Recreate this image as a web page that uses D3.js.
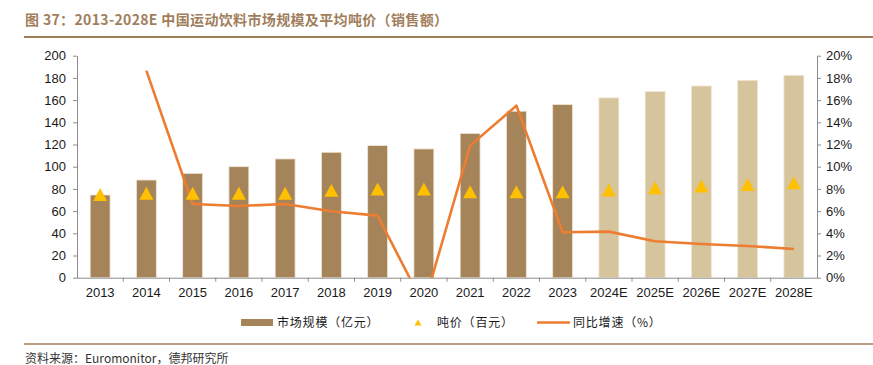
<!DOCTYPE html>
<html>
<head>
<meta charset="utf-8">
<script src="https://cdn.jsdelivr.net/npm/d3@7"></script>
<style>
  body { margin: 0; background: #fff; }
  svg text { font-family: "Liberation Sans", Arial, "Noto Sans CJK SC", sans-serif; }
  .cjk { font-family: "Noto Sans CJK SC", sans-serif; }
  .axis path, .axis line { stroke: #8c8c8c; }
  .axis text { font-size: 13px; fill: #1a1a1a; }
</style>
</head>
<body>
<svg width="873" height="365"></svg>
<script>
// categories
var years = ["2013","2014","2015","2016","2017","2018","2019","2020","2021","2022","2023","2024E","2025E","2026E","2027E","2028E"];
// market size, 100 million yuan
var marketSize = [74.5, 88, 94, 100, 107, 113, 119, 116, 130, 150, 156, 162, 167.6, 172.7, 177.8, 182.3];
// average price per ton, hundred yuan
var tonPrice = [75, 76, 76, 76, 76, 78.7, 80, 80, 77.5, 77.5, 77.5, 79, 81, 82.6, 84, 85.6];
// growth rate %, no value for 2013
var growth = [null, 18.65, 6.64, 6.46, 6.64, 5.98, 5.59, -2.5, 11.9, 15.5, 4.09, 4.15, 3.28, 3.04, 2.86, 2.59];
var leftTicks = [0, 20, 40, 60, 80, 100, 120, 140, 160, 180, 200];
var rightTicks = [0, 2, 4, 6, 8, 10, 12, 14, 16, 18, 20];

var svg = d3.select("svg");
var plot = { left: 77, right: 817, top: 55.7, bottom: 277.7 };

var brown = "#a6845a", beige = "#d5c49c", gold = "#ffc000", orange = "#ed7d31", titleColor = "#a07e5c";

// title
svg.append("text").attr("x", 25).attr("y", 25)
  .attr("class", "cjk")
  .attr("font-size", 14).attr("font-weight", "bold").attr("fill", titleColor)
  .attr("letter-spacing", 0.35)
  .text("图 37：2013-2028E 中国运动饮料市场规模及平均吨价（销售额）");
svg.append("line").attr("x1", 24).attr("x2", 873).attr("y1", 37).attr("y2", 37)
  .attr("stroke", titleColor).attr("stroke-width", 2);

var x = d3.scaleBand().domain(years).range([plot.left, plot.right]);
var yL = d3.scaleLinear().domain([0, 200]).range([plot.bottom, plot.top]);
var yR = d3.scaleLinear().domain([0, 20]).range([plot.bottom, plot.top]);
var barW = x.bandwidth() * 0.43;

// bars
svg.append("g").selectAll("rect")
  .data(years)
  .enter().append("rect")
  .attr("x", function(d){ return x(d) + (x.bandwidth() - barW) / 2; })
  .attr("width", barW)
  .attr("y", function(d, i){ return yL(marketSize[i]); })
  .attr("height", function(d, i){ return yL(0) - yL(marketSize[i]); })
  .attr("fill", function(d){ return d.indexOf("E") > 0 ? beige : brown; })
  .attr("stroke", "#efe6d6").attr("stroke-width", 0.8);

// axes
var xAxis = svg.append("g").attr("class", "axis")
  .attr("transform", "translate(0," + plot.bottom + ")")
  .call(d3.axisBottom(x).tickSize(0).tickPadding(10));
// boundary ticks
xAxis.selectAll(".bt")
  .data(years.slice(1))
  .enter().append("line")
  .attr("class", "bt")
  .attr("x1", function(d){ return x(d); }).attr("x2", function(d){ return x(d); })
  .attr("y1", 0).attr("y2", 4);
xAxis.select(".domain").attr("d", "M" + plot.left + ",0.5H" + plot.right);

svg.append("g").attr("class", "axis")
  .attr("transform", "translate(" + plot.left + ",0)")
  .call(d3.axisLeft(yL).tickValues(leftTicks).tickSize(4).tickPadding(7).tickSizeOuter(0));

svg.append("g").attr("class", "axis")
  .attr("transform", "translate(" + plot.right + ",0)")
  .call(d3.axisRight(yR).tickValues(rightTicks).tickSize(4).tickPadding(5).tickSizeOuter(0)
    .tickFormat(function(d){ return d + "%"; }));

// growth line, clipped to plot area
svg.append("clipPath").attr("id", "clip")
  .append("rect").attr("x", plot.left).attr("y", plot.top - 5)
  .attr("width", plot.right - plot.left).attr("height", plot.bottom - plot.top + 5);

var line = d3.line()
  .defined(function(d){ return d != null; })
  .x(function(d, i){ return x(years[i]) + x.bandwidth() / 2; })
  .y(function(d){ return yR(d); });

svg.append("path")
  .datum(growth)
  .attr("clip-path", "url(#clip)")
  .attr("d", line)
  .attr("fill", "none").attr("stroke", orange).attr("stroke-width", 2.6)
  .attr("stroke-linejoin", "round");

// triangles
var tri = "M0,-6.5L7,6.5L-7,6.5Z";
svg.append("g").selectAll("path")
  .data(tonPrice)
  .enter().append("path")
  .attr("d", tri)
  .attr("transform", function(d, i){ return "translate(" + (x(years[i]) + x.bandwidth() / 2) + "," + yL(d) + ")"; })
  .attr("fill", gold);

// legend
var lg = svg.append("g").attr("font-size", 12);
lg.append("rect").attr("x", 241).attr("y", 319).attr("width", 32).attr("height", 7).attr("fill", brown);
lg.append("text").attr("class", "cjk").attr("x", 277).attr("y", 327).attr("fill", "#1a1a1a")
  .attr("letter-spacing", 0.8).text("市场规模（亿元）");
lg.append("path").attr("d", "M0,-3L3.5,3L-3.5,3Z").attr("transform", "translate(418,322.5)").attr("fill", gold);
lg.append("text").attr("class", "cjk").attr("x", 437).attr("y", 327).attr("fill", "#1a1a1a")
  .attr("letter-spacing", 0.8).text("吨价（百元）");
lg.append("line").attr("x1", 537).attr("x2", 570).attr("y1", 322.5).attr("y2", 322.5)
  .attr("stroke", orange).attr("stroke-width", 2.6);
lg.append("text").attr("class", "cjk").attr("x", 573).attr("y", 327).attr("fill", "#1a1a1a")
  .attr("letter-spacing", 0.8).text("同比增速（%）");

// footer
svg.append("line").attr("x1", 24).attr("x2", 873).attr("y1", 344).attr("y2", 344)
  .attr("stroke", titleColor).attr("stroke-width", 1.5);
svg.append("text").attr("class", "cjk").attr("x", 25).attr("y", 363)
  .attr("font-size", 12).attr("fill", "#333")
  .text("资料来源：Euromonitor，德邦研究所");
</script>
</body>
</html>
